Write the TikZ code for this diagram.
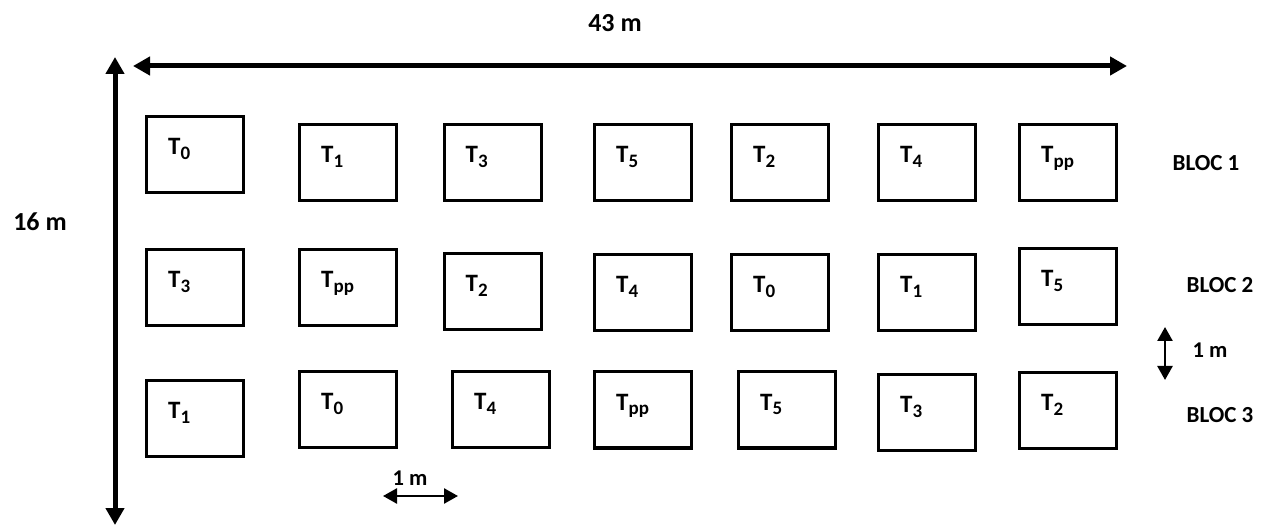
\documentclass[tikz,border=0pt]{standalone}
\usepackage{fontspec}
\setmainfont{Carlito}
\usetikzlibrary{arrows.meta}
\newcommand\tsub[1]{\raisebox{-5pt}{\fontsize{19}{19}\selectfont #1}}
\begin{document}
\begin{tikzpicture}[x=1pt,y=-1pt,
  plot/.style={draw=black,line width=3pt,minimum width=97pt,minimum height=76pt,inner sep=0pt},
  lab/.style={anchor=base west,inner sep=0pt,font=\fontsize{25}{29}\selectfont\bfseries},
  dim/.style={inner sep=0pt,font=\fontsize{26}{30}\selectfont\bfseries},
  bloc/.style={inner sep=0pt,font=\fontsize{23}{27}\selectfont\bfseries},
  small/.style={inner sep=0pt,font=\fontsize{22.5}{26}\selectfont\bfseries},
  bigarrow/.style={line width=5pt,{Triangle[length=17pt,width=18pt]}-{Triangle[length=17pt,width=18pt]}},
  smallarrow/.style={line width=2.5pt,{Triangle[length=14pt,width=15pt]}-{Triangle[length=14pt,width=15pt]}}]
\useasboundingbox (0,0) rectangle (1272,526);
% plots: name / center x / center y / label
\foreach \n/\cx/\cy/\t in {
  a1/195/155/T\tsub{0}, a2/348/163/T\tsub{1}, a3/492.5/163/T\tsub{3}, a4/643/163/T\tsub{5},
  a5/780/163/T\tsub{2}, a6/927/163/T\tsub{4}, a7/1068/163/T\tsub{pp},
  b1/195/287.5/T\tsub{3}, b2/348/287.5/T\tsub{pp}, b3/492.5/292/T\tsub{2}, b4/643/292.5/T\tsub{4},
  b5/780/292.5/T\tsub{0}, b6/927/292.5/T\tsub{1}, b7/1068/287/T\tsub{5},
  c1/195/418.5/T\tsub{1}, c2/348/409.5/T\tsub{0}, c3/501/409.5/T\tsub{4}, c4/643/410/T\tsub{pp},
  c5/787/410/T\tsub{5}, c6/927/412.5/T\tsub{3}, c7/1068/410.5/T\tsub{2}}{
  \node[plot] (\n) at (\cx,\cy) {};
  \node[lab] (\n-l) at ([xshift=23pt]\n.west) {\t};
}
% dimension arrows
\coordinate (hl) at (133,66);
\coordinate (hr) at (1127,66);
\draw[bigarrow] (hl) -- (hr);
\coordinate (vt) at (115,57);
\coordinate (vb) at (115,525);
\draw[bigarrow] (vt) -- (vb);
\coordinate (st) at (1165,327);
\coordinate (sb) at (1165,380);
\draw[smallarrow] (st) -- (sb);
\coordinate (sl) at (383,496);
\coordinate (sr) at (458,496);
\draw[smallarrow] (sl) -- (sr);
% texts
\node[dim] (w) at (615,23) {43 m};
\node[dim] (h) at (40,222) {16 m};
\node[small] (m1) at (1210,350) {1 m};
\node[small] (m2) at (410,478) {1 m};
\node[bloc] (bl1) at (1206,163) {BLOC 1};
\node[bloc] (bl2) at (1220,285) {BLOC 2};
\node[bloc] (bl3) at (1220,415) {BLOC 3};
\end{tikzpicture}
\end{document}
